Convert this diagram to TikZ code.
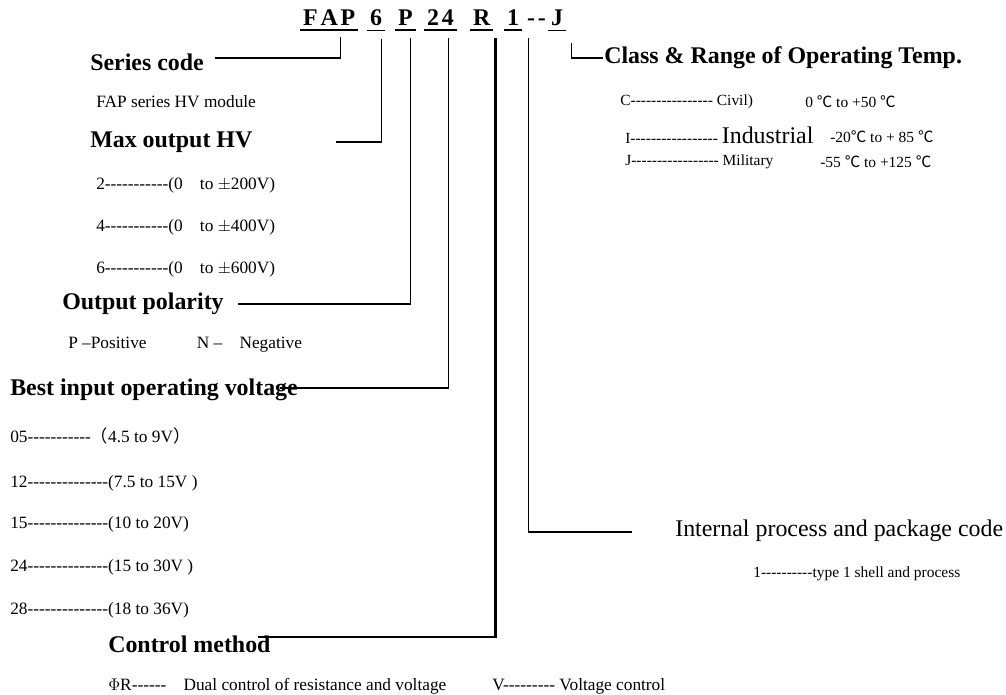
\documentclass[tikz,border=0pt]{standalone}
\usepackage{fontspec}
\setmainfont{Liberation Serif}
\newfontfamily\cjk{Noto Sans CJK SC}
\usetikzlibrary{calc}
\newcommand{\degc}{{\cjk ℃}}
\newcommand{\fwl}{{\cjk （}}
\newcommand{\fwr}{{\cjk ）}}
\newcommand{\hy}[1]{\foreach \i in {1,...,#1}{-\kern0pt}}
\tikzset{
  head/.style={anchor=west, inner sep=0pt, font=\bfseries\fontsize{17}{20}\selectfont},
  txt/.style={anchor=west, inner sep=0pt, font=\fontsize{12.3}{15}\selectfont},
  txtr/.style={anchor=west, inner sep=0pt, font=\fontsize{11}{13}\selectfont},
  code/.style={anchor=base west, inner xsep=2pt, inner ysep=0pt, font=\bfseries\fontsize{17}{20}\selectfont},
  uline/.style={line width=1.2pt},
  lead/.style={line width=0.8pt},
  leadthick/.style={line width=1.9pt}
}
\begin{document}
\begin{tikzpicture}[x=0.025cm,y=-0.025cm]
        \useasboundingbox (0,0) rectangle (1006,695);
        % type code
        \node[code] (cFAP) at (300,26) {F\kern2pt A\kern2pt P};
        \node[code] (c6) at (367,26) {6};
        \node[code] (cP) at (395,26) {P};
        \node[code] (c24) at (424,26) {2\kern2pt 4};
        \node[code] (cR) at (470,26) {R};
        \node[code] (c1) at (504,26) {1};
        \node[code] (cdash) at (524,26) {-\kern2pt -};
        \node[code] (cJ) at (548,26) {J};
        \foreach \c in {cFAP,c6,cP,c24,cR,c1,cJ}
          \draw[uline] ($(\c.south west)+(0,4)$) -- ($(\c.south east)+(0,4)$);
        % left column
        \node[head] (series) at (90,62) {Series code};
        \node[txt] (series1) at (96,102) {FAP series HV module};
        \node[head] (maxhv) at (90,142) {Max output HV};
        \node[txt] (maxhv1) at (96,185) {2\hy{11}(0\quad to $\pm$200V)};
        \node[txt] (maxhv2) at (96,227) {4\hy{11}(0\quad to $\pm$400V)};
        \node[txt] (maxhv3) at (96,269) {6\hy{11}(0\quad to $\pm$600V)};
        \node[head] (outpol) at (62,304) {Output polarity};
        \node[txt] (outpol1) at (68,345) {P --Positive\hspace{2.9em}N --\quad Negative};
        \node[head] (bestin) at (10,390) {Best input operating voltage};
        \node[txt] (bestin1) at (10,436) {05\hy{11}\fwl 4.5 to 9V\fwr};
        \node[txt] (bestin2) at (10,483) {12\hy{14}(7.5 to 15V )};
        \node[txt] (bestin3) at (10,524) {15\hy{14}(10 to 20V)};
        \node[txt] (bestin4) at (10,567) {24\hy{14}(15 to 30V )};
        \node[txt] (bestin5) at (10,610) {28\hy{14}(18 to 36V)};
        \node[head] (control) at (108,644) {Control method};
        \node[txt] (control1) at (108,686) {$\Phi$R\hy{6}\quad Dual control of resistance and voltage};
        \node[txt] (control2) at (492,686) {V\hy{9} Voltage control};
        % right column
        \node[head] (temp) at (604,58) {Class \& Range of Operating Temp.};
        \node[txtr] (temp1) at (620,102) {C\hy{16} Civil)};
        \node[txtr] (temp2) at (625,135) {I\hy{17} {\fontsize{17}{20}\selectfont Industrial}};
        \node[txtr] (temp3) at (625,162) {J\hy{17} Military};
        \node[txtr] (deg1) at (805,102) {0 \degc{} to +50 \degc};
        \node[txtr] (deg2) at (830,137) {-20\degc{} to + 85 \degc};
        \node[txtr] (deg3) at (820,162) {-55 \degc{} to +125 \degc};
        \node[anchor=west, inner sep=0pt, font=\fontsize{17}{20}\selectfont] (intern) at (675,531) {Internal process and package code};
        \node[txtr] (intern1) at (753,574) {1\hy{10}type 1 shell and process};
        % free ends
        \coordinate (eSeries) at (215,58);
        \coordinate (eMax) at (336,142);
        \coordinate (eOut) at (238,304);
        \coordinate (eBest) at (280,388);
        \coordinate (eCtrl) at (258,637);
        \coordinate (eIntern) at (632,532);
        \coordinate (eTemp) at (603,58);
        % leaders
        \draw[lead] ($(cFAP.south east)+(-18,11)$) |- (eSeries);
        \draw[lead] ($(c6.south east)+(-4,12)$) |- (eMax);
        \draw[lead] ($(cP.south east)+(-5,12)$) |- (eOut);
        \draw[lead] ($(c24.south east)+(-8,12)$) |- (eBest) coordinate (k24);
        \draw[leadthick] (eBest) -- (eBest -| k24);
        \draw[leadthick] ($(cR.south east)+(2,12)$) |- (eCtrl);
        \draw[lead] ($(c1.south east)+(6,12)$) |- (eIntern);
        \draw[lead] ($(cJ.south east)+(5,16)$) |- (eTemp);
        \draw[leadthick] ($(cJ.south east |- eTemp)+(5,0)$) -- (eTemp);
\end{tikzpicture}
\end{document}
